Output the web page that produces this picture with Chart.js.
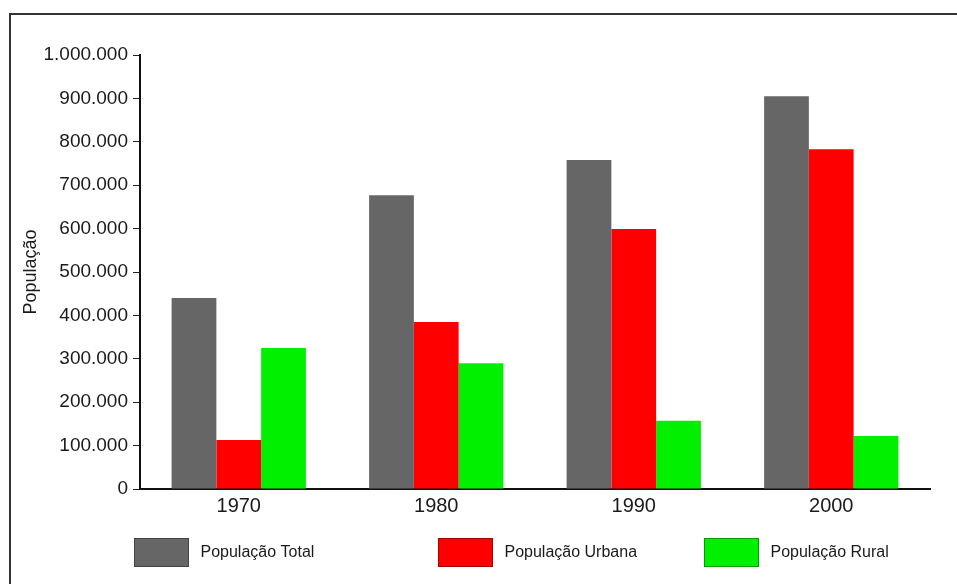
<!DOCTYPE html>
<html>
<head>
<meta charset="utf-8">
<script src="https://cdn.jsdelivr.net/npm/chart.js@4.4.1/dist/chart.umd.min.js"></script>
<style>
  html, body { margin: 0; padding: 0; background: #fff; }
  #frame { position: absolute; left: 9px; top: 13px; width: 960px; height: 600px;
           border-top: 2px solid #333; border-left: 2px solid #333; }
  #wrap { position: absolute; left: 0; top: 0; width: 957px; height: 584px; }
</style>
</head>
<body>
<div id="frame"></div>
<div id="wrap"><canvas id="c" width="957" height="584"></canvas></div>
<script>
const categories = ['1970', '1980', '1990', '2000'];
const seriesNames = ['População Total', 'População Urbana', 'População Rural'];
const populacaoTotal = [440000, 677000, 758000, 905000];
const populacaoUrbana = [113000, 385000, 599000, 783000];
const populacaoRural = [325000, 290000, 157000, 122000];
const yTicks = [0, 100000, 200000, 300000, 400000, 500000, 600000, 700000, 800000, 900000, 1000000];

const fillColors = ['#666666', '#ff0000', '#00f000'];
const edgeColors = ['#444444', '#aa0000', '#00a000'];

function fmt(v) {
  return v.toString().replace(/\B(?=(\d{3})+(?!\d))/g, '.');
}

const legendPlugin = {
  id: 'fixedLegend',
  afterDraw(chart, args, opts) {
    const ctx = chart.ctx;
    const area = chart.chartArea;
    const w = area.right - area.left;
    ctx.save();
    ctx.font = opts.font;
    ctx.textBaseline = 'middle';
    ctx.textAlign = 'left';
    chart.data.datasets.forEach((ds, i) => {
      const x = Math.round(area.left + opts.anchors[i] * w) + 0.5;
      const y = area.bottom + opts.offsetY + 0.5;
      ctx.fillStyle = ds.backgroundColor;
      ctx.fillRect(x, y, opts.boxW, opts.boxH);
      ctx.strokeStyle = edgeColors[i];
      ctx.lineWidth = 1;
      ctx.strokeRect(x, y, opts.boxW, opts.boxH);
      ctx.fillStyle = '#1a1a1a';
      ctx.fillText(ds.label, x + opts.boxW + opts.gap, y + opts.boxH / 2);
    });
    ctx.restore();
  }
};

const FONT = '"Liberation Sans", Arial, sans-serif';

new Chart(document.getElementById('c'), {
  type: 'bar',
  data: {
    labels: categories,
    datasets: [
      { label: seriesNames[0], data: populacaoTotal, backgroundColor: fillColors[0] },
      { label: seriesNames[1], data: populacaoUrbana, backgroundColor: fillColors[1] },
      { label: seriesNames[2], data: populacaoRural, backgroundColor: fillColors[2] }
    ]
  },
  options: {
    responsive: false,
    animation: false,
    layout: { padding: { left: 20, right: 27, top: 55, bottom: 0 } },
    datasets: { bar: { categoryPercentage: 0.68, barPercentage: 1.0, borderWidth: 0 } },
    plugins: {
      legend: { display: false },
      tooltip: { enabled: false },
      fixedLegend: {
        anchors: [-0.008, 0.377, 0.714],
        offsetY: 49,
        boxW: 54, boxH: 28, gap: 12,
        font: '16px "Liberation Sans", Arial, sans-serif'
      }
    },
    scales: {
      x: {
        afterFit: s => { s.height = 95; },
        grid: { display: false, drawTicks: false },
        border: { display: true, color: '#111', width: 2 },
        ticks: { color: '#1a1a1a', padding: 5, font: { family: FONT, size: 20 } }
      },
      y: {
        min: 0, max: 1000000,
        afterFit: s => { s.width = 120; },
        afterBuildTicks: s => { s.ticks = yTicks.map(v => ({ value: v })); },
        grid: { drawOnChartArea: false, drawTicks: true, tickLength: 7, color: '#222', lineWidth: 1 },
        border: { display: true, color: '#111', width: 2 },
        ticks: { color: '#1a1a1a', padding: 5, font: { family: FONT, size: 19 },
                 callback: v => fmt(v) },
        title: { display: true, text: 'População', color: '#1a1a1a', padding: 0,
                 font: { family: FONT, size: 18 } }
      }
    }
  },
  plugins: [legendPlugin]
});
</script>
</body>
</html>
